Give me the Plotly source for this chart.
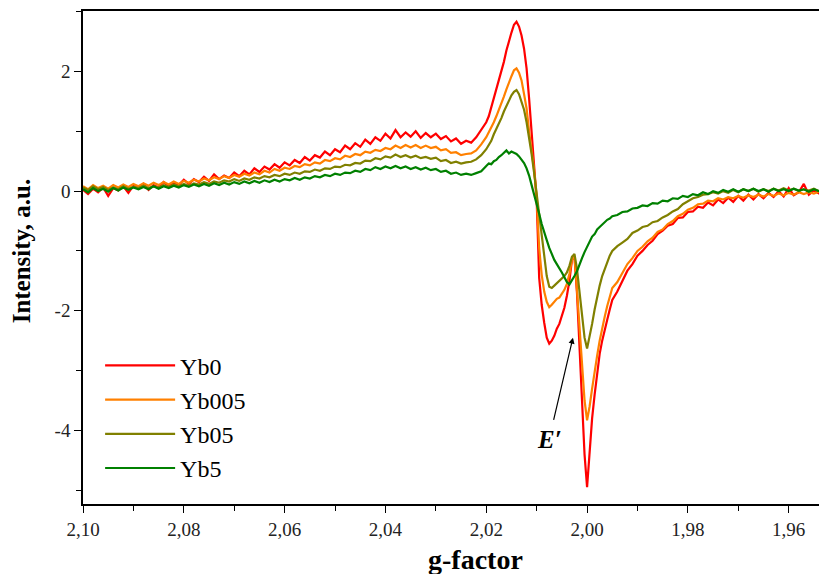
import numpy as np
import plotly.graph_objects as go

# g-factor sampling (three segments, reversed axis)
g_a = np.round(np.arange(2.100, 2.0205, -0.001), 4)      # 80 pts
g_b = np.round(np.arange(2.0200, 1.99495, -0.0005), 4)   # 51 pts
g_c = np.round(np.arange(1.994, 1.9515, -0.001), 4)      # 43 pts
g_factor = np.concatenate([g_a, g_b, g_c])

yb0 = [
    0.02, -0.05, 0.04, -0.02, 0.06, -0.08, 0.05, 0.01, 0.08, -0.03,
    0.09, 0.04, 0.12, 0.02, 0.10, 0.06, 0.15, 0.08, 0.14, 0.10,
    0.19, 0.12, 0.20, 0.15, 0.24, 0.17, 0.28, 0.20, 0.26, 0.22,
    0.31, 0.25, 0.34, 0.28, 0.38, 0.32, 0.41, 0.36, 0.45, 0.39,
    0.48, 0.43, 0.52, 0.47, 0.57, 0.51, 0.60, 0.56, 0.66, 0.60,
    0.70, 0.65, 0.76, 0.70, 0.80, 0.74, 0.86, 0.79, 0.90, 0.84,
    0.96, 0.88, 1.02, 0.90, 0.98, 0.91, 1.00, 0.89, 0.97, 0.90,
    0.96, 0.87, 0.92, 0.83, 0.88, 0.79, 0.84, 0.81, 0.90, 1.02,
    # segment b
    1.15, 1.25, 1.40, 1.58, 1.72, 1.85, 2.00, 2.16, 2.35, 2.52,
    2.65, 2.78, 2.83, 2.75, 2.60, 2.38, 2.05, 1.55, 1.00, 0.40, -0.15,
    -1.45, -1.90, -2.20, -2.45, -2.55, -2.50, -2.42, -2.30, -2.22, -2.10,
    -1.95, -1.75, -1.50, -1.15, -1.10, -1.70, -2.60, -3.50, -4.40, -4.95,
    -4.30, -3.80, -3.40, -3.05, -2.72, -2.50, -2.30, -2.15, -1.98, -1.82,
    # segment c
    -1.68, -1.50, -1.33, -1.22, -1.08, -1.00, -0.90, -0.83, -0.72, -0.66,
    -0.58, -0.55, -0.45, -0.44, -0.35, -0.34, -0.26, -0.28, -0.19, -0.24,
    -0.14, -0.20, -0.11, -0.18, -0.08, -0.16, -0.06, -0.14, -0.05, -0.12,
    -0.03, -0.10, 0.00, -0.09, 0.05, -0.07, -0.02, 0.12, -0.06, 0.01,
    -0.04, 0.03, -0.02,
]

yb005 = [
    0.08, 0.03, 0.10, 0.05, 0.09, 0.04, 0.10, 0.06, 0.11, 0.07,
    0.12, 0.08, 0.13, 0.09, 0.14, 0.10, 0.15, 0.11, 0.16, 0.12,
    0.17, 0.14, 0.19, 0.16, 0.21, 0.18, 0.23, 0.20, 0.25, 0.22,
    0.27, 0.24, 0.29, 0.26, 0.31, 0.28, 0.34, 0.31, 0.37, 0.34,
    0.39, 0.37, 0.42, 0.40, 0.45, 0.43, 0.48, 0.46, 0.52, 0.50,
    0.55, 0.53, 0.59, 0.57, 0.62, 0.60, 0.66, 0.64, 0.69, 0.67,
    0.72, 0.70, 0.76, 0.72, 0.77, 0.73, 0.77, 0.72, 0.76, 0.72,
    0.74, 0.68, 0.70, 0.64, 0.65, 0.60, 0.62, 0.63, 0.68, 0.78,
    # segment b
    0.90, 0.98, 1.07, 1.15, 1.25, 1.35, 1.46, 1.58, 1.70, 1.82,
    1.92, 2.02, 2.05, 1.98, 1.85, 1.62, 1.38, 1.00, 0.70, 0.35, -0.10,
    -0.95, -1.40, -1.68, -1.85, -1.94, -1.90, -1.85, -1.80, -1.78, -1.72,
    -1.65, -1.55, -1.38, -1.15, -1.08, -1.65, -2.25, -2.95, -3.50, -3.83,
    -3.60, -3.30, -3.00, -2.75, -2.50, -2.28, -2.10, -1.92, -1.75, -1.62,
    # segment c
    -1.52, -1.38, -1.22, -1.12, -1.00, -0.93, -0.84, -0.78, -0.68, -0.64,
    -0.55, -0.50, -0.42, -0.38, -0.31, -0.28, -0.22, -0.21, -0.16, -0.17,
    -0.12, -0.14, -0.10, -0.12, -0.08, -0.11, -0.07, -0.10, -0.06, -0.09,
    -0.05, -0.08, -0.04, -0.07, -0.03, -0.06, -0.02, -0.05, -0.02, -0.04,
    -0.01, -0.04, -0.02,
]

yb05 = [
    0.06, 0.02, 0.08, 0.03, 0.07, 0.02, 0.06, 0.03, 0.08, 0.04,
    0.07, 0.05, 0.09, 0.05, 0.08, 0.06, 0.10, 0.07, 0.11, 0.08,
    0.12, 0.09, 0.13, 0.11, 0.15, 0.12, 0.16, 0.14, 0.18, 0.16,
    0.20, 0.17, 0.21, 0.19, 0.23, 0.21, 0.25, 0.23, 0.27, 0.25,
    0.29, 0.27, 0.31, 0.29, 0.33, 0.32, 0.36, 0.34, 0.38, 0.37,
    0.41, 0.40, 0.44, 0.43, 0.47, 0.46, 0.51, 0.50, 0.55, 0.53,
    0.58, 0.56, 0.61, 0.57, 0.60, 0.56, 0.59, 0.55, 0.57, 0.54,
    0.56, 0.50, 0.52, 0.47, 0.49, 0.46, 0.48, 0.49, 0.53, 0.60,
    # segment b
    0.70, 0.76, 0.84, 0.95, 1.04, 1.12, 1.22, 1.33, 1.42, 1.52,
    1.60, 1.66, 1.69, 1.62, 1.50, 1.36, 1.15, 0.90, 0.62, 0.30, -0.05,
    -0.40, -0.80, -1.15, -1.42, -1.60, -1.62, -1.58, -1.54, -1.50, -1.46,
    -1.42, -1.36, -1.25, -1.10, -1.05, -1.30, -1.65, -2.10, -2.45, -2.63,
    -2.45, -2.22, -1.98, -1.75, -1.58, -1.42, -1.30, -1.18, -1.08, -1.00,
    # segment c
    -0.92, -0.86, -0.80, -0.70, -0.66, -0.60, -0.58, -0.52, -0.50, -0.44,
    -0.40, -0.34, -0.30, -0.22, -0.17, -0.12, -0.10, -0.06, -0.05, -0.02,
    -0.04, 0.00, -0.03, 0.02, -0.02, 0.03, 0.00, 0.04, -0.01, 0.03,
    0.00, 0.04, 0.01, 0.05, 0.01, 0.04, 0.00, 0.03, 0.01, 0.04,
    0.00, 0.03, 0.01,
]

yb5 = [
    0.03, -0.02, 0.05, 0.00, 0.04, -0.01, 0.05, 0.01, 0.06, 0.02,
    0.06, 0.03, 0.07, 0.03, 0.08, 0.04, 0.08, 0.05, 0.09, 0.06,
    0.10, 0.07, 0.11, 0.08, 0.12, 0.09, 0.13, 0.10, 0.14, 0.11,
    0.15, 0.12, 0.16, 0.13, 0.17, 0.14, 0.18, 0.15, 0.19, 0.16,
    0.20, 0.18, 0.22, 0.19, 0.23, 0.21, 0.25, 0.23, 0.27, 0.25,
    0.29, 0.27, 0.31, 0.30, 0.34, 0.32, 0.37, 0.35, 0.40, 0.37,
    0.41, 0.38, 0.42, 0.38, 0.41, 0.37, 0.40, 0.36, 0.39, 0.35,
    0.37, 0.32, 0.34, 0.29, 0.31, 0.27, 0.29, 0.27, 0.30, 0.33,
    # segment b
    0.42, 0.46, 0.45, 0.50, 0.52, 0.57, 0.60, 0.64, 0.68, 0.63,
    0.66, 0.64, 0.62, 0.58, 0.52, 0.47, 0.38, 0.26, 0.10, -0.05, -0.20,
    -0.38, -0.55, -0.70, -0.82, -0.95, -1.06, -1.15, -1.22, -1.28, -1.36,
    -1.44, -1.52, -1.56, -1.50, -1.42, -1.34, -1.22, -1.12, -1.02, -0.94,
    -0.86, -0.76, -0.72, -0.64, -0.60, -0.56, -0.52, -0.48, -0.46, -0.42,
    # segment c
    -0.40, -0.35, -0.34, -0.29, -0.28, -0.24, -0.25, -0.20, -0.21, -0.16,
    -0.17, -0.12, -0.13, -0.08, -0.10, -0.05, -0.07, -0.02, -0.05, 0.00,
    -0.03, 0.02, -0.01, 0.03, -0.01, 0.03, 0.00, 0.04, 0.00, 0.03,
    -0.01, 0.04, 0.00, 0.03, 0.00, 0.04, 0.01, 0.03, -0.01, 0.03,
    0.00, 0.02, 0.00,
]

series_names = ["Yb0", "Yb005", "Yb05", "Yb5"]
series_values = [yb0, yb005, yb05, yb5]
series_colors = ["#FF0000", "#FF8000", "#808000", "#008000"]

x_tick_vals = [2.10, 2.08, 2.06, 2.04, 2.02, 2.00, 1.98, 1.96]
x_tick_text = ["2,10", "2,08", "2,06", "2,04", "2,02", "2,00", "1,98", "1,96"]
y_tick_vals = [2, 0, -2, -4]
y_tick_text = ["2", "0", "-2", "-4"]

FONT = "Liberation Serif"

fig = go.Figure()
for name, vals, col in zip(series_names, series_values, series_colors):
    fig.add_trace(go.Scatter(x=g_factor, y=vals, mode="lines", name=name,
                             line=dict(color=col, width=2.2)))

fig.add_annotation(
    x=2.0028, y=-2.45, ax=2.0067, ay=-3.85,
    xref="x", yref="y", axref="x", ayref="y",
    showarrow=True, arrowhead=2, arrowsize=1, arrowwidth=1.2, arrowcolor="black",
    text="", standoff=0,
)
fig.add_annotation(
    x=2.0074, y=-4.16, xref="x", yref="y", showarrow=False,
    text="<b><i>E′</i></b>", font=dict(family=FONT, size=25, color="black"),
)
# axis titles
fig.add_annotation(
    x=0.527, y=-0.113, xref="paper", yref="paper", showarrow=False,
    xanchor="center", yanchor="middle",
    text="<b>g-factor</b>", font=dict(family=FONT, size=28, color="black"),
)
fig.add_annotation(
    x=-0.083, y=0.513, xref="paper", yref="paper", showarrow=False,
    xanchor="center", yanchor="middle", textangle=-90,
    text="<b>Intensity, a.u.</b>", font=dict(family=FONT, size=25, color="black"),
)

fig.update_layout(
    width=819, height=566,
    margin=dict(l=75, r=0, t=3, b=70),
    paper_bgcolor="white", plot_bgcolor="white",
    font=dict(family=FONT, color="black"),
    showlegend=True,
    legend=dict(
        x=0.023, y=0.326, xanchor="left", yanchor="top",
        bgcolor="rgba(0,0,0,0)", font=dict(family=FONT, size=24, color="black"),
        itemwidth=70, tracegroupgap=0,
    ),
    xaxis=dict(
        range=[2.10, 1.9524], autorange=False, automargin=False,
        tickmode="array", tickvals=x_tick_vals, ticktext=x_tick_text,
        ticks="outside", ticklen=7, tickwidth=1.3, tickcolor="black",
        minor=dict(dtick=0.01, ticks="outside", ticklen=5, tickwidth=1.3, tickcolor="black", tick0=2.10),
        showline=True, linecolor="black", linewidth=1.5, mirror=True,
        showgrid=False, zeroline=False,
        tickfont=dict(family=FONT, size=19, color="#222"),
    ),
    yaxis=dict(
        range=[-5.23, 3.01], autorange=False, automargin=False,
        tickmode="array", tickvals=y_tick_vals, ticktext=y_tick_text,
        ticks="outside", ticklen=7, tickwidth=1.3, tickcolor="black",
        minor=dict(dtick=1, tick0=1, ticks="outside", ticklen=5, tickwidth=1.3, tickcolor="black"),
        showline=True, linecolor="black", linewidth=1.5, mirror=False,
        showgrid=False, zeroline=False,
        tickfont=dict(family=FONT, size=19, color="#222"),
    ),
)

fig.write_html("out.html")
